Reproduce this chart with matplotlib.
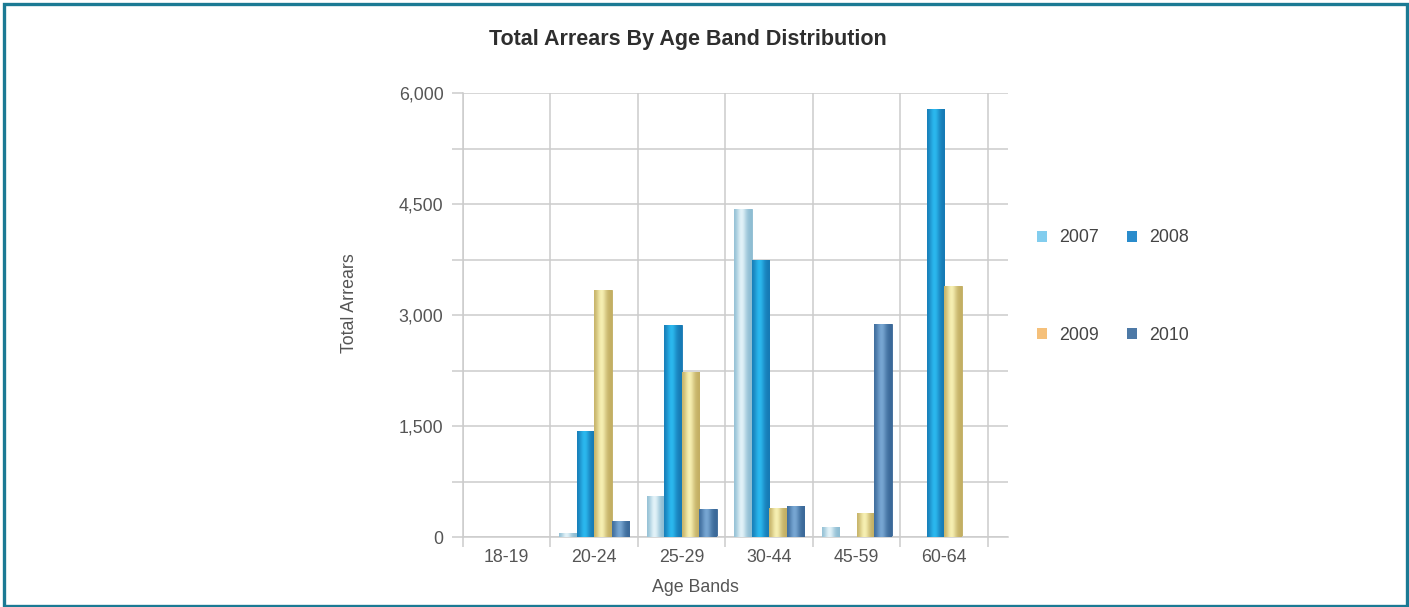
import numpy as np
import matplotlib
matplotlib.use('Agg')
import matplotlib.pyplot as plt
from matplotlib.patches import Patch, Rectangle
from matplotlib.colors import to_rgb
from matplotlib.ticker import MultipleLocator, FuncFormatter

# Arrears totals per age band and year
age_bands = ['18-19', '20-24', '25-29', '30-44', '45-59', '60-64']
years = ['2007', '2008', '2009', '2010']
arrears_2007 = [0, 55, 560, 4430, 135, 0]
arrears_2008 = [0, 1430, 2870, 3740, 0, 5780]
arrears_2009 = [0, 3340, 2230, 390, 320, 3390]
arrears_2010 = [0, 215, 380, 420, 2880, 0]
series = [arrears_2007, arrears_2008, arrears_2009, arrears_2010]

# (edge shade, highlight shade) for the cylinder-style bars
bar_shades = [('#8dbcd2', '#e2f2f8'),
              ('#1679b4', '#2bb8ee'),
              ('#c2ae62', '#f6efb2'),
              ('#3a6898', '#77a6d2')]
legend_colors = ['#82cdee', '#2a8ccc', '#f5c07a', '#4d79a6']

plt.rcParams['font.family'] = ['Liberation Sans', 'DejaVu Sans']
text_color = '#555555'
grid_color = '#cccccc'
fs = 12.8

fig = plt.figure(figsize=(14.09, 6.07), dpi=100)
ax = fig.add_axes([463 / 1409, 1 - 537 / 607, 545 / 1409, 444 / 607])

x = np.arange(len(age_bands))
width = 0.2
offsets = [-0.3, -0.1, 0.1, 0.3]


def shaded_bar(rect, edge, light):
    # horizontal gradient: dark edges, bright stripe left of centre
    t = np.linspace(0, 1, 64)
    w = np.exp(-((t - 0.42) / 0.28) ** 2)
    c0, c1 = np.array(to_rgb(edge)), np.array(to_rgb(light))
    img = (c0[None, :] * (1 - w[:, None]) + c1[None, :] * w[:, None])[None, :, :]
    x0, h = rect.get_x(), rect.get_height()
    im = ax.imshow(img, extent=[x0, x0 + rect.get_width(), 0, h],
                   aspect='auto', interpolation='bilinear', zorder=3)
    im.set_clip_path(rect)


for vals, off, (edge, light) in zip(series, offsets, bar_shades):
    bars = ax.bar(x + off, vals, width, color=edge, edgecolor=edge,
                  linewidth=0.6, zorder=2)
    for rect in bars:
        if rect.get_height() > 0:
            shaded_bar(rect, edge, light)

ax.set_xlim(-0.5, 5.73)
ax.set_ylim(0, 6000)

# y axis: labels every 1,500, grid every 750
ax.yaxis.set_major_locator(MultipleLocator(1500))
ax.yaxis.set_minor_locator(MultipleLocator(750))
ax.yaxis.set_major_formatter(FuncFormatter(lambda v, p: f'{int(v):,}'))
ax.tick_params(axis='y', which='both', length=8, width=1.1, color=grid_color,
               labelsize=fs, labelcolor=text_color, pad=6)

# x axis: labels at band centres, grid lines on band boundaries
ax.set_xticks(x)
ax.set_xticklabels(age_bands)
ax.set_xticks(np.arange(-0.5, 6, 1), minor=True)
ax.tick_params(axis='x', which='major', length=0, labelsize=fs,
               labelcolor=text_color, pad=9)
ax.tick_params(axis='x', which='minor', length=7.5, width=1.1, color=grid_color)

ax.yaxis.grid(True, which='both', color=grid_color, linewidth=1.1, zorder=0)
ax.xaxis.grid(True, which='minor', color=grid_color, linewidth=1.1, zorder=0)
ax.set_axisbelow(True)
for side in ['top', 'right']:
    ax.spines[side].set_visible(False)
for side in ['left', 'bottom']:
    ax.spines[side].set_color(grid_color)
    ax.spines[side].set_linewidth(1.1)

ax.set_xlabel('Age Bands', fontsize=fs, color=text_color)
ax.xaxis.set_label_coords(0.426, -0.113)
ax.xaxis.label.set_va('center')
ax.set_ylabel('Total Arrears', fontsize=fs, color=text_color)
ax.yaxis.set_label_coords(-0.208, 0.527)
ax.yaxis.label.set_va('center')

fig.text(688 / 1409, 1 - 39 / 607, 'Total Arrears By Age Band Distribution',
         ha='center', va='center', fontsize=15.5, fontweight='bold', color='#2e2e2e')

# legend fills column by column, so order handles to read 2007 2008 / 2009 2010
order = [0, 2, 1, 3]
handles = [Patch(facecolor=legend_colors[i], edgecolor='none') for i in order]
labels = [years[i] for i in order]
fig.legend(handles, labels, loc='center left',
           bbox_to_anchor=(1028 / 1409, 1 - 286.5 / 607), ncol=2, frameon=False,
           fontsize=fs, labelcolor='#444444', handlelength=0.55, handleheight=0.55,
           handletextpad=0.7, columnspacing=1.6, labelspacing=4.5, borderpad=0)

# teal frame round the panel
fig.patches.append(Rectangle((3.5 / 1409, 1.5 / 607), 1403 / 1409, 602 / 607,
                             transform=fig.transFigure, fill=False,
                             edgecolor='#1b7a94', linewidth=2.4))

fig.savefig('out.png', dpi=100)
